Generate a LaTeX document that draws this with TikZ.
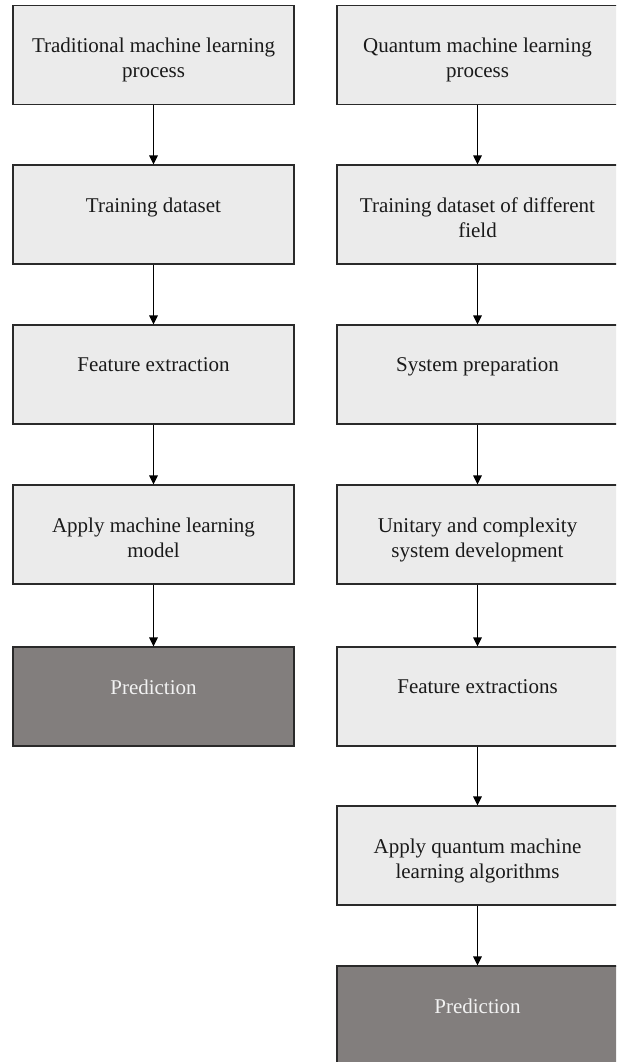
\documentclass[tikz,border=0pt]{standalone}
\usepackage{fontspec}
\setmainfont{Liberation Serif}
\usetikzlibrary{arrows.meta}
\definecolor{boxfill}{HTML}{EBEBEB}
\definecolor{darkfill}{HTML}{827E7D}
\definecolor{boxline}{HTML}{2A2A2A}
\definecolor{darktext}{HTML}{F2F2F2}
\definecolor{txt}{HTML}{1A1A1A}
\tikzset{
  boxstyle/.style={draw=boxline, line width=1.1pt, fill=boxfill, minimum width=281pt, minimum height=99pt, inner sep=0pt},
  widebox/.style={boxstyle, minimum width=287pt},
  darkbox/.style={boxstyle, fill=darkfill},
  lbl/.style={anchor=north, inner sep=0pt, align=center, text=txt, font=\fontsize{21}{25}\selectfont},
  darklbl/.style={lbl, text=darktext},
  arr/.style={draw=black, line width=1.1pt, -{Triangle[width=8.5pt,length=9pt]}}
}
\begin{document}
\begin{tikzpicture}[x=1pt,y=-1pt]
\useasboundingbox (0,0) rectangle (616,1062);
\clip (0,0) rectangle (616,1062);
% left column
\node[boxstyle] (L1) at (153.5,55) {};
\node[boxstyle] (L2) at (153.5,214.5) {};
\node[boxstyle] (L3) at (153.5,374.5) {};
\node[boxstyle] (L4) at (153.5,534.5) {};
\node[darkbox] (L5) at (153.5,696.5) {};
% right column (extends past the right edge)
\node[widebox] (R1) at (480.5,55) {};
\node[widebox] (R2) at (480.5,214.5) {};
\node[widebox] (R3) at (480.5,374.5) {};
\node[widebox] (R4) at (480.5,534.5) {};
\node[widebox] (R5) at (480.5,696.5) {};
\node[widebox] (R6) at (480.5,855.5) {};
\node[widebox, fill=darkfill] (R7) at (480.5,1015.5) {};
% labels
\node[lbl] (tL1) at ([yshift=-33pt]L1.north) {Traditional machine learning\\process};
\node[lbl] (tL2) at ([yshift=-33pt]L2.north) {Training dataset};
\node[lbl] (tL3) at ([yshift=-33pt]L3.north) {Feature extraction};
\node[lbl] (tL4) at ([yshift=-33pt]L4.north) {Apply machine learning\\model};
\node[darklbl] (tL5) at ([yshift=-33pt]L5.north) {Prediction};
\node[lbl] (tR1) at ([xshift=-3pt,yshift=-33pt]R1.north) {Quantum machine learning\\process};
\node[lbl] (tR2) at ([xshift=-3pt,yshift=-33pt]R2.north) {Training dataset of different\\field};
\node[lbl] (tR3) at ([xshift=-3pt,yshift=-33pt]R3.north) {System preparation};
\node[lbl] (tR4) at ([xshift=-3pt,yshift=-33pt]R4.north) {Unitary and complexity\\system development};
\node[lbl] (tR5) at ([xshift=-3pt,yshift=-33pt]R5.north) {Feature extractions};
\node[lbl] (tR6) at ([xshift=-3pt,yshift=-33pt]R6.north) {Apply quantum machine\\learning algorithms};
\node[darklbl] (tR7) at ([xshift=-3pt,yshift=-33pt]R7.north) {Prediction};
% arrows
\draw[arr] (L1.south) -- (L2.north);
\draw[arr] (L2.south) -- (L3.north);
\draw[arr] (L3.south) -- (L4.north);
\draw[arr] (L4.south) -- (L5.north);
\draw[arr] ([xshift=-3pt]R1.south) -- ([xshift=-3pt]R2.north);
\draw[arr] ([xshift=-3pt]R2.south) -- ([xshift=-3pt]R3.north);
\draw[arr] ([xshift=-3pt]R3.south) -- ([xshift=-3pt]R4.north);
\draw[arr] ([xshift=-3pt]R4.south) -- ([xshift=-3pt]R5.north);
\draw[arr] ([xshift=-3pt]R5.south) -- ([xshift=-3pt]R6.north);
\draw[arr] ([xshift=-3pt]R6.south) -- ([xshift=-3pt]R7.north);
\end{tikzpicture}
\end{document}
